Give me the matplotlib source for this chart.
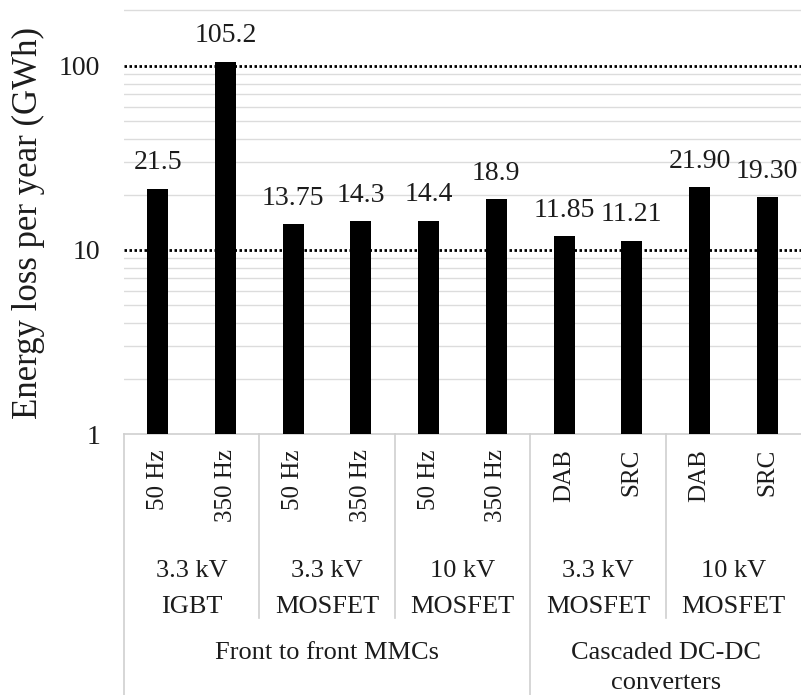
import matplotlib
matplotlib.use("Agg")
import matplotlib.pyplot as plt
import matplotlib.transforms as mtransforms
from matplotlib.ticker import LogLocator, NullFormatter

plt.rcParams['font.family'] = ['Liberation Serif', 'DejaVu Serif']

# Chart data
values = [21.5, 105.2, 13.75, 14.3, 14.4, 18.9, 11.85, 11.21, 21.90, 19.30]
value_labels = ["21.5", "105.2", "13.75", "14.3", "14.4", "18.9", "11.85", "11.21", "21.90", "19.30"]
sub_labels = ["50 Hz", "350 Hz", "50 Hz", "350 Hz", "50 Hz", "350 Hz", "DAB", "SRC", "DAB", "SRC"]
device_labels = [["3.3 kV", "IGBT"], ["3.3 kV", "MOSFET"], ["10 kV", "MOSFET"],
                 ["3.3 kV", "MOSFET"], ["10 kV", "MOSFET"]]
device_sizes = [2, 2, 2, 2, 2]
topology_labels = [["Front to front MMCs"], ["Cascaded DC-DC", "converters"]]
topology_sizes = [6, 4]
y_ticks = [1, 10, 100]

text_color = "#1c1c1c"
line_gray = "#cfcfcf"

fig = plt.figure(figsize=(8.01, 6.95), dpi=100)
ax_h = 434
ax = fig.add_axes([124 / 801, 1 - ax_h / 695, 677 / 801, ax_h / 695])


def yf(py):
    # pixel row in the figure -> axes fraction
    return (ax_h - py) / ax_h


x = list(range(len(values)))
ax.bar(x, values, width=0.31, color="black", zorder=3)
ax.set_yscale("log")
ax.set_ylim(1, 228)
ax.set_xlim(-0.5, len(values) - 0.5)

ax.set_yticks(y_ticks)
ax.set_yticklabels([str(t) for t in y_ticks])
ax.yaxis.set_minor_locator(LogLocator(base=10, subs=range(2, 10)))
ax.yaxis.set_minor_formatter(NullFormatter())
ax.grid(which="minor", axis="y", color="#dcdcdc", lw=1, zorder=0)
for t in y_ticks[1:]:
    ax.axhline(t, color="black", lw=2, ls=(0, (0.9, 0.9)), zorder=2)

ax.set_xticks([])
ax.tick_params(axis="y", which="both", length=0, pad=17, labelsize=20, labelcolor=text_color)
for s in ["top", "right", "left"]:
    ax.spines[s].set_visible(False)
ax.spines["bottom"].set_color(line_gray)
ax.spines["bottom"].set_linewidth(1.2)

ax.set_ylabel("Energy loss per year (GWh)", fontsize=25, color=text_color)
ax.yaxis.set_label_coords((45 - 124) / 677, yf(223))

# value labels above bars
for xi, v, lab in zip(x, values, value_labels):
    ax.annotate(lab, (xi, v), xytext=(0, 14), textcoords="offset points",
                ha="center", va="baseline", fontsize=20, color=text_color)

trans = mtransforms.blended_transform_factory(ax.transData, ax.transAxes)

# level 1: rotated sub labels
for xi, lab in zip(x, sub_labels):
    ax.text(xi, yf(449), lab, rotation=90, ha="center", va="top", fontsize=18,
            color=text_color, transform=trans)

# level 2: device groups
start = 0
for labs, n in zip(device_labels, device_sizes):
    cx = start + (n - 1) / 2
    for lab, py in zip(labs, [577, 613]):
        ax.text(cx, yf(py), lab, ha="center", va="baseline", fontsize=19,
                color=text_color, transform=trans)
    start += n

# level 3: topologies
start = 0
topo_edges = [-0.5]
for labs, n in zip(topology_labels, topology_sizes):
    cx = start + (n - 1) / 2
    for lab, py in zip(labs, [659, 689]):
        ax.text(cx, yf(py), lab, ha="center", va="baseline", fontsize=19,
                color=text_color, transform=trans)
    start += n
    topo_edges.append(start - 0.5)

# table separator lines
edge = -0.5
dev_edges = []
for n in device_sizes:
    edge += n
    dev_edges.append(edge)
for e in [-0.5] + dev_edges[:-1]:
    bottom = yf(695) if e in topo_edges else yf(618)
    ax.plot([e, e], [0, bottom], color=line_gray, lw=1.2, transform=trans, clip_on=False)

fig.savefig("out.png", dpi=100)
